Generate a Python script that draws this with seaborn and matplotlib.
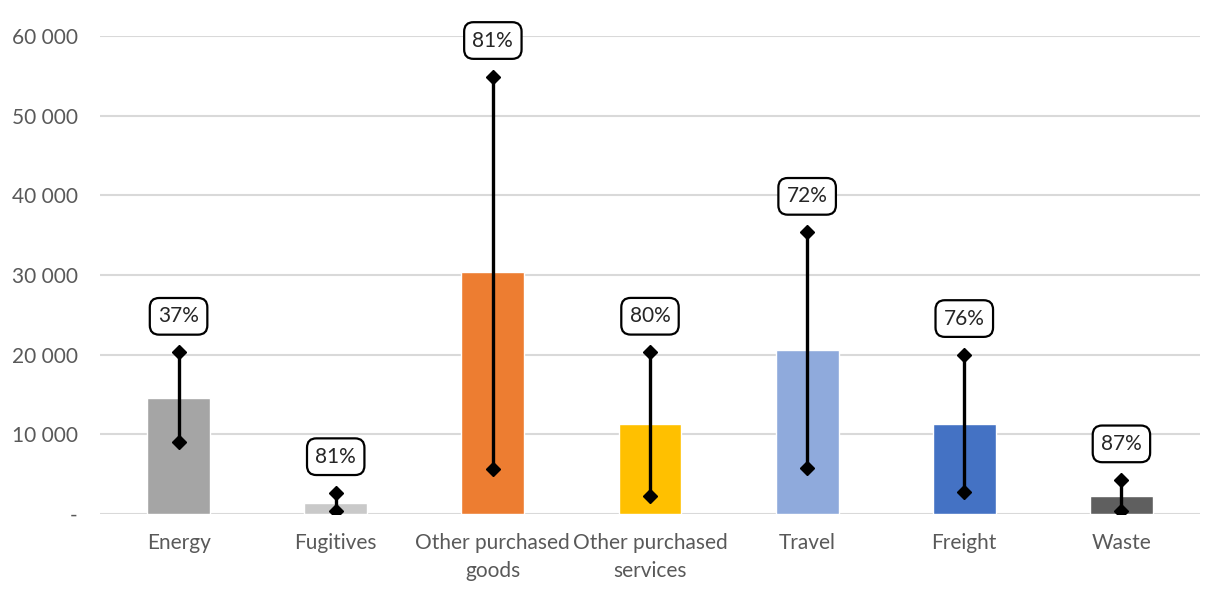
import matplotlib
matplotlib.use("Agg")
import matplotlib.pyplot as plt
import seaborn as sns
import pandas as pd

categories = ["Energy", "Fugitives", "Other purchased\ngoods", "Other purchased\nservices",
              "Travel", "Freight", "Waste"]
values = [14600, 1420, 30330, 11280, 20580, 11260, 2260]
range_low = [9080, 380, 5650, 2200, 5820, 2700, 380]
range_high = [20280, 2660, 54900, 20290, 35340, 20000, 4270]
share_labels = ["37%", "81%", "81%", "80%", "72%", "76%", "87%"]
colors = ["#A5A5A5", "#C9C9C9", "#ED7D31", "#FFC000", "#8FAADC", "#4472C4", "#5F5F5F"]
y_ticks = [0, 10000, 20000, 30000, 40000, 50000, 60000]
y_tick_labels = ["-", "10 000", "20 000", "30 000", "40 000", "50 000", "60 000"]

sns.set_theme(style="white")
plt.rcParams["font.family"] = ["Lato", "DejaVu Sans"]

df = pd.DataFrame({"category": categories, "value": values})

fig = plt.figure(figsize=(12.08, 5.89), dpi=100)
ax = fig.add_axes([100 / 1208, 1 - 514 / 589, 1100 / 1208, 478 / 589])

sns.barplot(data=df, x="category", y="value", hue="category", palette=colors,
            width=0.4, legend=False, ax=ax, zorder=2, saturation=1)

xs = range(len(categories))
ax.vlines(xs, range_low, range_high, color="black", linewidth=2.4, zorder=3)
ax.plot(xs, range_low, linestyle="none", marker="D", markersize=7,
        color="black", zorder=4)
ax.plot(xs, range_high, linestyle="none", marker="D", markersize=7,
        color="black", zorder=4)

for x, top, lab in zip(xs, range_high, share_labels):
    ax.annotate(lab, xy=(x, top), xytext=(0, 26), textcoords="offset points",
                ha="center", va="center", fontsize=15, color="#262626",
                bbox=dict(boxstyle="round,pad=0.4,rounding_size=0.45",
                          facecolor="white", edgecolor="black", linewidth=1.6),
                zorder=5, annotation_clip=False)

ax.set_xlim(-0.5, len(categories) - 0.5)
ax.set_ylim(0, 60000)
ax.set_yticks(y_ticks)
ax.set_yticklabels(y_tick_labels)
ax.yaxis.grid(True, color="#D9D9D9", linewidth=1.5, zorder=0)
ax.set_axisbelow(True)
for side in ["top", "right", "left", "bottom"]:
    ax.spines[side].set_visible(False)
ax.set_xlabel("")
ax.set_ylabel("")
ax.tick_params(axis="both", length=0, labelsize=15, labelcolor="#595959")
ax.tick_params(axis="y", pad=16)
ax.tick_params(axis="x", pad=14)
for t in ax.get_xticklabels():
    t.set_linespacing(1.45)

fig.savefig("out.png", dpi=100)
